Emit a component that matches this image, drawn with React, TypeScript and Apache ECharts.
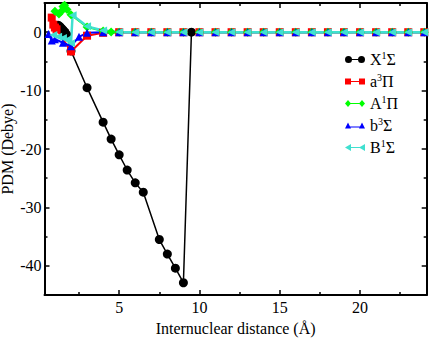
import React, { useEffect, useRef } from "react";
import * as echarts from "echarts";

const xMajor = [5, 10, 15, 20];
const xMinor = [2.5, 7.5, 12.5, 17.5, 22.5];
const yMajor = [-40, -30, -20, -10, 0];
const yMinor = [-35, -25, -15, -5];

const seriesNames = ["X1S", "a3P", "A1P", "b3S", "B1S"];
const legendLabels: Record<string, string> = {
  X1S: "X{s|1}Σ",
  a3P: "a{s|3}Π",
  A1P: "A{s|1}Π",
  b3S: "b{s|3}Σ",
  B1S: "B{s|1}Σ",
};

const dataX1S = [
  [1.2, 1.2], [1.3, 1.0], [1.4, 0.7], [1.5, 0.4], [1.6, 0.1], [1.7, -0.3],
  [2.0, -3.2], [3.0, -9.5], [4.0, -15.4], [4.5, -18.3], [5.0, -21.0],
  [5.5, -23.6], [6.0, -25.8], [6.5, -27.4], [7.5, -35.5], [8.0, -38.0],
  [8.5, -40.4], [9.0, -42.9], [9.5, 0],
];
const dataA3P = [
  [0.8, 2.5], [0.9, 1.3], [1.0, 0.8], [1.1, 0.5], [2.0, -3.3], [3.0, -0.6],
  [4.0, -0.1], [5, 0], [6, 0], [7, 0], [8, 0], [9, 0], [10, 0], [11, 0],
  [12, 0], [13, 0], [14, 0], [15, 0], [16, 0], [17, 0], [18, 0], [19, 0],
  [20, 0], [21, 0], [22, 0], [23, 0], [24, 0],
];
const dataA1P = [
  [1.0, 3.6], [1.25, 3.1], [1.4, 3.6], [1.5, 4.4], [1.6, 4.6], [1.75, 3.9],
  [2.0, 3.0], [3.0, 0.9], [4.0, 0.2], [4.5, 0.05], [5, 0], [6, 0], [7, 0],
  [8, 0], [9, 0], [10, 0], [11, 0], [12, 0], [13, 0], [14, 0], [15, 0],
  [16, 0], [17, 0], [18, 0], [19, 0], [20, 0], [21, 0], [22, 0], [23, 0], [24, 0],
];
const dataB3S = [
  [0.6, -0.3], [0.8, -1.4], [1.0, -1.2], [1.5, -1.8], [2.0, -2.4], [2.5, -0.8],
  [3.0, -0.1], [4.0, 0], [5, 0], [6, 0], [7, 0], [8, 0], [9, 0], [10, 0],
  [11, 0], [12, 0], [13, 0], [14, 0], [15, 0], [16, 0], [17, 0], [18, 0],
  [19, 0], [20, 0], [21, 0], [22, 0], [23, 0], [24, 0],
];
const dataB1S = [
  [0.9, -0.5], [1.2, -0.8], [1.5, -1.0], [1.75, -1.3], [2.0, -1.9], [2.1, 2.9],
  [3.0, 1.0], [4.0, 0.3], [5, 0.05], [6, 0], [7, 0], [8, 0], [9, 0], [10, 0],
  [11, 0], [12, 0], [13, 0], [14, 0], [15, 0], [16, 0], [17, 0], [18, 0],
  [19, 0], [20, 0], [21, 0], [22, 0], [23, 0], [24, 0],
];

const FONT = "Liberation Serif";
const X_MIN = 0.35;
const X_MAX = 24.15;
const Y_MIN = -45;
const Y_MAX = 5;

const icons = [
  "path://M0,7A7,7,0,1,1,14,7A7,7,0,1,1,0,7ZM12,6H28V8H12ZM26,7A7,7,0,1,1,40,7A7,7,0,1,1,26,7Z",
  "path://M0,1H12V13H0ZM12,6H28V8H12ZM28,1H40V13H28Z",
  "path://M6,0L12,7L6,14L0,7ZM10,6H30V8H10ZM34,0L40,7L34,14L28,7Z",
  "path://M6,0L12,12H0ZM10,8H30V10H10ZM34,0L40,12H28Z",
  "path://M0,7L12,0V14ZM10,6H30V8H10ZM28,7L40,0V14Z",
];

const labelStyle = { color: "#000", fontFamily: FONT, fontSize: 16 };

function xAxisDef(position: string, values: number[], len: number, showLine: boolean, labels: boolean) {
  return {
    type: "value",
    position,
    min: X_MIN,
    max: X_MAX,
    splitLine: { show: false },
    axisLine: { show: showLine, onZero: false, lineStyle: { color: "#000", width: 2 } },
    axisTick: { show: true, inside: true, length: len, customValues: values, lineStyle: { color: "#000", width: 1.5 } },
    axisLabel: labels
      ? { show: true, customValues: values, margin: 4, ...labelStyle }
      : { show: false },
  };
}

function yAxisDef(position: string, values: number[], len: number, showLine: boolean, labels: boolean) {
  return {
    type: "value",
    position,
    min: Y_MIN,
    max: Y_MAX,
    splitLine: { show: false },
    axisLine: { show: showLine, onZero: false, lineStyle: { color: "#000", width: 2 } },
    axisTick: { show: true, inside: true, length: len, customValues: values, lineStyle: { color: "#000", width: 1.5 } },
    axisLabel: labels
      ? { show: true, customValues: values, margin: 3, ...labelStyle }
      : { show: false },
  };
}

export default function App() {
  const ref = useRef<HTMLDivElement>(null);
  useEffect(() => {
    if (!ref.current) return;
    const chart = echarts.init(ref.current, undefined, { renderer: "svg" });
    const xMain: any = xAxisDef("bottom", xMajor, 5, true, true);
    xMain.name = "Internuclear distance (Å)";
    xMain.nameLocation = "middle";
    xMain.nameGap = 25;
    xMain.nameMoveOverlap = false;
    xMain.nameTextStyle = { fontFamily: FONT, fontSize: 16, color: "#000" };
    const yMain: any = yAxisDef("left", yMajor, 5, true, true);
    yMain.name = "PDM (Debye)";
    yMain.nameLocation = "middle";
    yMain.nameGap = 29;
    yMain.nameMoveOverlap = false;
    yMain.nameTextStyle = { fontFamily: FONT, fontSize: 16, color: "#000" };

    const mk = (name: string, data: number[][], color: string, symbol: string, size: number, width: number, extra: any = {}) => ({
      name,
      type: "line",
      data,
      xAxisIndex: 0,
      yAxisIndex: 0,
      symbol,
      symbolSize: size,
      showAllSymbol: true,
      lineStyle: { color, width },
      itemStyle: { color, borderWidth: 0 },
      ...extra,
    });

    chart.setOption({
      animation: false,
      textStyle: { fontFamily: FONT, fontSize: 16, color: "#000" },
      grid: { left: 44.5, right: 4.3, top: 3, bottom: 43, containLabel: false, outerBoundsMode: "none" },
      xAxis: [
        xMain,
        xAxisDef("bottom", xMinor, 3, false, false),
        xAxisDef("top", xMajor, 5, true, false),
        xAxisDef("top", xMinor, 3, false, false),
      ],
      yAxis: [
        yMain,
        yAxisDef("left", yMinor, 3, false, false),
        yAxisDef("right", yMajor, 5, true, false),
        yAxisDef("right", yMinor, 3, false, false),
      ],
      legend: {
        orient: "vertical",
        left: 340,
        top: 45,
        itemWidth: 20,
        itemHeight: 7,
        itemGap: 3,
        data: seriesNames.map((n, i) => ({ name: n, icon: icons[i] })),
        formatter: (n: string) => legendLabels[n],
        textStyle: {
          fontFamily: FONT,
          fontSize: 16,
          color: "#000",
          lineHeight: 18,
          rich: {
            s: { fontFamily: FONT, fontSize: 10, color: "#000", padding: [0, 0, 9, 0], lineHeight: 18 },
          },
        },
      },
      series: [
        mk("X1S", dataX1S, "#000000", "circle", 9, 1.5),
        mk("a3P", dataA3P, "#ff0000", "rect", 8, 2),
        mk("A1P", dataA1P, "#00ff00", "diamond", 9, 2),
        mk("b3S", dataB3S, "#0000ff", "triangle", 8, 2),
        mk("B1S", dataB1S, "#40e0d0", "triangle", 8, 2.5, { symbolRotate: 90 }),
      ],
    });
    return () => chart.dispose();
  }, []);
  return <div ref={ref} style={{ position: "absolute", left: 0, top: 0, width: 431, height: 338 }} />;
}
